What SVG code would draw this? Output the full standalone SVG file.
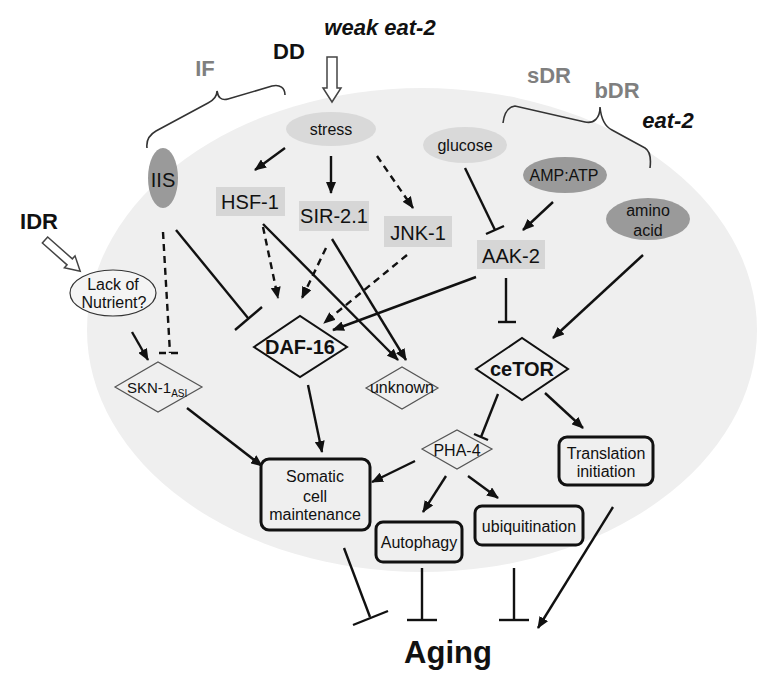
<svg xmlns="http://www.w3.org/2000/svg" width="782" height="684" viewBox="0 0 782 684">
<defs>
<style>
text{font-family:"Liberation Sans",Arial,sans-serif;fill:#111;}
.lbl{font-size:16px;text-anchor:middle;}
.box{font-size:20px;text-anchor:middle;}
.big{font-size:22px;font-weight:bold;text-anchor:middle;}
.grey{fill:#7f7f7f;}
.ln{stroke:#111;stroke-width:2.4;fill:none;}
.dash{stroke-dasharray:7 5;}
.arr{marker-end:url(#ah);}
.gbox{fill:#d6d6d6;stroke:none;}
.rbox{fill:#efefef;stroke:#111;stroke-width:3;}
.dk{fill:#9a9a9a;}
.lt{fill:#d9d9d9;}
.dm{fill:#efefef;stroke:#111;stroke-width:2;}
.dmg{fill:#efefef;stroke:#555;stroke-width:1.2;}
.open{fill:#fff;stroke:#444;stroke-width:1.5;}
.brace{fill:none;stroke:#333;stroke-width:1.6;}
</style>
<marker id="ah" markerUnits="userSpaceOnUse" markerWidth="12" markerHeight="10" refX="11" refY="5" orient="auto"><path d="M0,0 L12,5 L0,10 z" fill="#111"/></marker>
</defs>
<rect width="782" height="684" fill="#fff"/>
<ellipse cx="422" cy="330" rx="335" ry="242" fill="#efefef"/>

<g id="labels">
<text class="big" x="380" y="35" font-style="italic" font-size="23">weak eat-2</text>
<text class="big" x="289" y="59">DD</text>
<text class="big grey" x="205" y="76">IF</text>
<text class="big grey" x="549" y="83">sDR</text>
<text class="big grey" x="617" y="98">bDR</text>
<text class="big" x="668" y="128" font-style="italic" font-size="21">eat-2</text>
<text class="big" x="39" y="229">IDR</text>
<path class="brace" d="M147,148 C146,140 149,135 156,131 L208,103 C214,100 217,97 217,91 C218,97 221,101 228,99 L272,86 C280,84 285,88 285,95"/>
<path class="brace" d="M503,123 C504,114 508,107 515,106 L585,122 C594,124 600,118 600,107 C601,118 604,126 612,130 L645,148 C650,151 651,160 650,168"/>
<polygon class="open" points="327,57 337,57 337,88 341,88 332,102 323,88 327,88"/>
<polygon class="open" points="0,-4 33,-4 33,-8 47,0 33,8 33,4 0,4" transform="translate(45,240) rotate(41.5)"/>
</g>

<g id="connectors">
<line class="ln arr" x1="285" y1="148" x2="255" y2="170"/>
<line class="ln arr" x1="331" y1="156" x2="331" y2="193"/>
<line class="ln arr dash" x1="377" y1="156" x2="413" y2="208"/>
<line class="ln" x1="465" y1="168" x2="495" y2="230"/>
<line class="ln" x1="486" y1="234" x2="504" y2="226"/>
<line class="ln arr" x1="553" y1="202" x2="523" y2="230"/>
<line class="ln arr" x1="643" y1="255" x2="553" y2="338"/>
<line class="ln" x1="506" y1="278" x2="506" y2="322"/>
<line class="ln" x1="498" y1="322" x2="516" y2="322"/>
<line class="ln arr" x1="476" y1="277" x2="333" y2="330"/>
<line class="ln" x1="176" y1="230" x2="248" y2="318"/>
<line class="ln" x1="235" y1="330" x2="262" y2="307"/>
<line class="ln dash" x1="163" y1="232" x2="170" y2="353"/>
<line class="ln dash" x1="159" y1="353" x2="182" y2="353" stroke-dasharray="8 5"/>
<line class="ln arr" x1="132" y1="332" x2="148" y2="360"/>
<line class="ln arr dash" x1="263" y1="227" x2="278" y2="298"/>
<line class="ln arr dash" x1="326" y1="248" x2="302" y2="298"/>
<line class="ln arr dash" x1="407" y1="255" x2="324" y2="323"/>
<line class="ln arr" x1="263" y1="224" x2="398" y2="360"/>
<line class="ln arr" x1="332" y1="239" x2="406" y2="360"/>
<line class="ln arr" x1="308" y1="385" x2="322" y2="452"/>
<line class="ln arr" x1="187" y1="408" x2="262" y2="466"/>
<line class="ln" x1="498" y1="394" x2="481" y2="437"/>
<line class="ln" x1="474" y1="434" x2="488" y2="440"/>
<line class="ln arr" x1="545" y1="393" x2="583" y2="428"/>
<line class="ln arr" x1="415" y1="461" x2="372" y2="482"/>
<line class="ln arr" x1="446" y1="476" x2="423" y2="512"/>
<line class="ln arr" x1="468" y1="476" x2="498" y2="498"/>
<line class="ln" x1="344" y1="548" x2="370" y2="617"/>
<line class="ln" x1="353" y1="625" x2="388" y2="611"/>
<line class="ln" x1="422" y1="568" x2="422" y2="620"/>
<line class="ln" x1="407" y1="620" x2="437" y2="620"/>
<line class="ln" x1="514" y1="568" x2="514" y2="620"/>
<line class="ln" x1="499" y1="620" x2="529" y2="620"/>
<line class="ln arr" x1="613" y1="507" x2="538" y2="628"/>
</g>

<g id="stress"><ellipse class="lt" cx="331" cy="129" rx="45" ry="17"/><text class="lbl" x="331" y="135" font-size="18">stress</text></g>
<g id="IIS"><ellipse class="dk" cx="163" cy="178" rx="15" ry="30"/><text class="box" x="163" y="187" font-size="23" fill="#222">IIS</text></g>
<g id="HSF-1"><rect class="gbox" x="216" y="187" width="69" height="29"/><text class="box" x="250" y="209">HSF-1</text></g>
<g id="SIR-2.1"><rect class="gbox" x="299" y="201" width="70" height="30"/><text class="box" x="334" y="223">SIR-2.1</text></g>
<g id="JNK-1"><rect class="gbox" x="384" y="216" width="68" height="31"/><text class="box" x="418" y="240">JNK-1</text></g>
<g id="AAK-2"><rect class="gbox" x="477" y="240" width="68" height="29"/><text class="box" x="511" y="263">AAK-2</text></g>
<g id="glucose"><ellipse class="lt" cx="465" cy="145" rx="42" ry="18"/><text class="lbl" x="465" y="151" font-size="18">glucose</text></g>
<g id="AMP-ATP"><ellipse class="dk" cx="565" cy="175" rx="42" ry="18"/><text class="lbl" x="564" y="181" font-size="18" fill="#222">AMP:ATP</text></g>
<g id="amino-acid"><ellipse class="dk" cx="648" cy="219" rx="42" ry="21"/><text class="lbl" x="648" y="216" fill="#222">amino</text><text class="lbl" x="648" y="236" fill="#222">acid</text></g>
<g id="lack-of-nutrient"><ellipse cx="113" cy="293" rx="43" ry="23" fill="#f4f4f4" stroke="#333" stroke-width="1.2"/><text class="lbl" x="113" y="290">Lack of</text><text class="lbl" x="114" y="308">Nutrient?</text></g>
<g id="SKN-1"><polygon class="dmg" points="115,387 158,362 202,387 158,412"/><text x="127" y="393" font-size="15">SKN-1<tspan dy="4" font-size="10">ASI</tspan></text></g>
<g id="DAF-16"><polygon class="dm" points="254,347 300,316 347,347 300,377"/><text class="box" x="300" y="354" font-size="19" font-weight="bold">DAF-16</text></g>
<g id="unknown"><polygon class="dmg" points="366,388 402,367 438,388 402,409"/><text class="lbl" x="402" y="393" font-size="13">unknown</text></g>
<g id="ceTOR"><polygon class="dm" points="476,369 522,338 568,369 522,400"/><text class="box" x="522" y="376" font-size="19" font-weight="bold">ceTOR</text></g>
<g id="PHA-4"><polygon class="dmg" points="422,449 457,430 492,449 457,469"/><text class="lbl" x="457" y="456">PHA-4</text></g>
<g id="translation"><rect class="rbox" x="559" y="437" width="94" height="48" rx="8"/><text class="lbl" x="606" y="459">Translation</text><text class="lbl" x="606" y="477">initiation</text></g>
<g id="somatic"><rect class="rbox" x="261" y="459" width="109" height="71" rx="8"/><text class="lbl" x="315" y="482">Somatic</text><text class="lbl" x="315" y="502">cell</text><text class="lbl" x="315" y="520">maintenance</text></g>
<g id="autophagy"><rect class="rbox" x="376" y="522" width="86" height="40" rx="7"/><text class="lbl" x="419" y="548">Autophagy</text></g>
<g id="ubiquitination"><rect class="rbox" x="475" y="506" width="108" height="39" rx="7"/><text class="lbl" x="529" y="532">ubiquitination</text></g>
<g id="aging"><text x="448" y="663" font-size="31" font-weight="bold" text-anchor="middle">Aging</text></g>
</svg>
